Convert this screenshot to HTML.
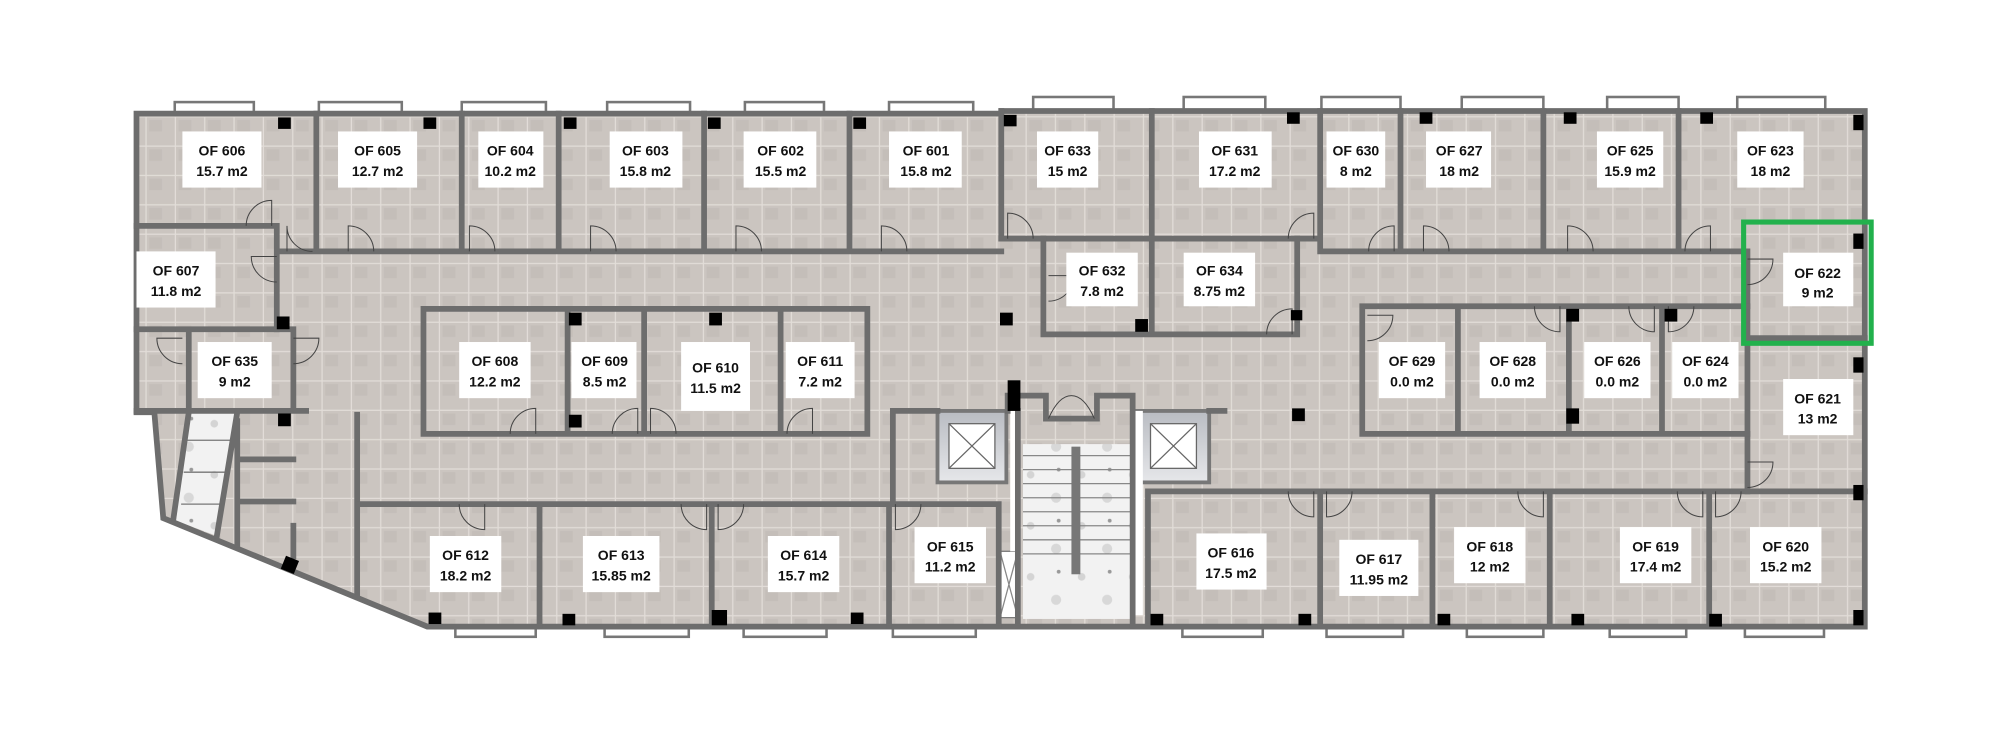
<!DOCTYPE html>
<html><head><meta charset="utf-8"><style>
html,body{margin:0;padding:0;background:#fff;width:2000px;height:744px;overflow:hidden}
svg{display:block}
.l{font-family:"Liberation Sans Narrow","Liberation Sans",sans-serif;font-weight:bold;font-size:11px;fill:#111;text-anchor:middle}
</style></head><body>
<svg width="2000" height="744" viewBox="0 0 1568 583" preserveAspectRatio="none" xmlns="http://www.w3.org/2000/svg">
<defs>
<pattern id="t" width="23" height="23" patternUnits="userSpaceOnUse">
<rect width="23" height="23" fill="#cbc5c0"/>
<rect x="2" y="2" width="10" height="9" fill="#c4beb9"/>
<path d="M22.5 0V23M0 22.5H23" stroke="#e2ddd8" stroke-width="1"/>
</pattern>
<pattern id="m" width="40" height="40" patternUnits="userSpaceOnUse">
<rect width="40" height="40" fill="#f2f2f2"/>
<circle cx="8" cy="12" r="3" fill="#d4d4d4"/><circle cx="28" cy="30" r="4" fill="#d8d8d8"/><circle cx="30" cy="8" r="1.5" fill="#999"/>
</pattern>
<linearGradient id="e" x1="0" y1="0" x2="0" y2="1"><stop offset="0" stop-color="#b9bcc2"/><stop offset="1" stop-color="#e6e7ea"/></linearGradient>
</defs>

<g fill="#fff" stroke="#777" stroke-width="2">
<rect x="137" y="80" width="62" height="10"/><rect x="250" y="80" width="65" height="10"/><rect x="362" y="80" width="66" height="10"/><rect x="476" y="80" width="65" height="10"/><rect x="584" y="80" width="62" height="10"/><rect x="697" y="80" width="66" height="10"/>
<rect x="810" y="76" width="63" height="10"/><rect x="928" y="76" width="64" height="10"/><rect x="1036" y="76" width="62" height="10"/><rect x="1146" y="76" width="64" height="10"/><rect x="1260" y="76" width="56" height="10"/><rect x="1362" y="76" width="69" height="10"/>
<rect x="357" y="490" width="63" height="9"/><rect x="474" y="490" width="66" height="9"/><rect x="583" y="490" width="65" height="9"/><rect x="700" y="490" width="65" height="9"/><rect x="927" y="490" width="63" height="9"/><rect x="1040" y="490" width="60" height="9"/><rect x="1150" y="490" width="60" height="9"/><rect x="1262" y="490" width="60" height="9"/><rect x="1368" y="490" width="62" height="9"/>
</g>

<path d="M107 89H785V87H1462V491H335L128 406L121 323H107Z" fill="url(#t)"/>
<path d="M148 323H186L170 420L138 408Z" fill="url(#m)"/>
<path d="M146 345H183M144 370H180M142 395H176" stroke="#777" stroke-width="1"/>
<rect x="802" y="348" width="84" height="137" fill="url(#m)"/>
<g stroke="#888" stroke-width="1"><path d="M802 357H886M802 368H886M802 379H886M802 390H886M802 401H886M802 412H886M802 423H886M802 434H886"/></g>
<rect x="840" y="350" width="7" height="100" fill="#777"/>
<rect x="735" y="322" width="54" height="56" fill="url(#e)" stroke="#777" stroke-width="3"/>
<rect x="744" y="332" width="36" height="35" fill="#fff" stroke="#666"/><path d="M744 332L780 367M780 332L744 367" stroke="#666"/>
<rect x="890" y="322" width="58" height="56" fill="url(#e)" stroke="#777" stroke-width="3"/>
<rect x="902" y="332" width="36" height="35" fill="#fff" stroke="#666"/><path d="M902 332L938 367M938 332L902 367" stroke="#666"/>
<rect x="784" y="432" width="14" height="52" fill="#fff" stroke="#777"/><path d="M784 432L798 484M798 432L784 484" stroke="#888"/>
<rect x="792" y="322" width="6" height="110" fill="#fff"/><rect x="888" y="322" width="8" height="160" fill="#fff"/>

<g fill="none" stroke="#6d6d6d" stroke-width="4.5" stroke-linecap="square">
<path d="M107 89H785V87H1462V491H335L128 406L121 323H107Z"/>
<path d="M107 177H217V258M217 197H785M248 89V197M362 89V197M438 89V197M552 89V197M666 89V197M785 87V187"/>
<path d="M785 187H1035M903 87V187M1035 87V197H1366M1098 87V197M1210 87V197M1316 87V197"/>
<path d="M818 187V262H1017V187M903 187V262"/>
<path d="M1370 197V385M1370 265H1462"/>
<path d="M1068 240H1370M1068 240V340H1370M1143 240V340M1230 240V340M1303 240V340"/>
<path d="M332 242H680V340H332ZM445 242V340M505 242V340M612 242V340"/>
<path d="M107 258H230V322M148 258V322M107 322H240"/>
<path d="M186 323L170 420M148 323L136 406M186 330V427M186 360H230M186 393H230M230 412V436"/>
<path d="M280 325V466"/>
<path d="M282 395H783M423 395V490M558 395V490M697 395V490M783 395V490"/>
<path d="M900 385H1462M900 385V490M1035 385V490M1123 385V490M1215 385V490M1340 385V490"/>
<path d="M790 310V322M798 322V490M888 322V490M798 310H820V328H860V310H888V322"/>
<path d="M735 322H700V395"/><path d="M948 322H960"/>
</g>

<g fill="none" stroke="#444" stroke-width="0.8">
<path d="M213 177V157A20 20 0 0 0 193 177"/>
<path d="M225 197V177A20 20 0 0 0 245 197"/>
<path d="M273 197V177A20 20 0 0 1 293 197"/>
<path d="M368 197V177A20 20 0 0 1 388 197"/>
<path d="M463 197V177A20 20 0 0 1 483 197"/>
<path d="M577 197V177A20 20 0 0 1 597 197"/>
<path d="M691 197V177A20 20 0 0 1 711 197"/>
<path d="M790 187V167A20 20 0 0 1 810 187"/>
<path d="M1030 187V167A20 20 0 0 0 1010 187"/>
<path d="M1093 197V177A20 20 0 0 0 1073 197"/>
<path d="M1116 197V177A20 20 0 0 1 1136 197"/>
<path d="M1229 197V177A20 20 0 0 1 1249 197"/>
<path d="M1341 197V177A20 20 0 0 0 1321 197"/>
<path d="M217 201H197A20 20 0 0 0 217 221"/>
<path d="M230 265H250A20 20 0 0 1 230 285"/>
<path d="M143 265H123A20 20 0 0 0 143 285"/>
<path d="M1370 203H1390A20 20 0 0 1 1370 223"/>
<path d="M822 216H842A20 20 0 0 1 822 236"/>
<path d="M1013 262V242A20 20 0 0 0 993 262"/>
<path d="M1072 247H1092A20 20 0 0 1 1072 267"/>
<path d="M1223 240V260A20 20 0 0 1 1203 240"/>
<path d="M1297 240V260A20 20 0 0 1 1277 240"/>
<path d="M1308 240V260A20 20 0 0 0 1328 240"/>
<path d="M420 340V320A20 20 0 0 0 400 340"/>
<path d="M500 340V320A20 20 0 0 0 480 340"/>
<path d="M510 340V320A20 20 0 0 1 530 340"/>
<path d="M637 340V320A20 20 0 0 0 617 340"/>
<path d="M1370 362H1390A20 20 0 0 1 1370 382"/>
<path d="M380 395V415A20 20 0 0 1 360 395"/>
<path d="M554 395V415A20 20 0 0 1 534 395"/>
<path d="M563 395V415A20 20 0 0 0 583 395"/>
<path d="M702 395V415A20 20 0 0 0 722 395"/>
<path d="M1030 385V405A20 20 0 0 1 1010 385"/>
<path d="M1040 385V405A20 20 0 0 0 1060 385"/>
<path d="M1210 385V405A20 20 0 0 1 1190 385"/>
<path d="M1335 385V405A20 20 0 0 1 1315 385"/>
<path d="M1345 385V405A20 20 0 0 0 1365 385"/>
<path d="M822 328Q830 310 840 310M858 328Q850 310 840 310"/>
</g>

<g fill="#000">
<rect x="218" y="92" width="10" height="9"/><rect x="332" y="92" width="10" height="9"/><rect x="442" y="92" width="10" height="9"/><rect x="555" y="92" width="10" height="9"/><rect x="669" y="92" width="10" height="9"/><rect x="787" y="90" width="10" height="9"/><rect x="1009" y="88" width="10" height="9"/><rect x="1113" y="88" width="10" height="9"/><rect x="1226" y="88" width="10" height="9"/><rect x="1333" y="88" width="10" height="9"/><rect x="1453" y="90" width="8" height="12"/>
<rect x="217" y="248" width="10" height="10"/><rect x="784" y="245" width="10" height="10"/><rect x="890" y="250" width="10" height="10"/><rect x="1012" y="243" width="9" height="8"/>
<rect x="446" y="245" width="10" height="10"/><rect x="556" y="245" width="10" height="10"/><rect x="446" y="325" width="10" height="10"/>
<rect x="1228" y="242" width="10" height="10"/><rect x="1228" y="320" width="10" height="12"/><rect x="1305" y="242" width="10" height="10"/><rect x="1453" y="183" width="8" height="12"/><rect x="1453" y="280" width="8" height="12"/><rect x="1453" y="380" width="8" height="12"/><rect x="1453" y="478" width="8" height="12"/>
<rect x="790" y="298" width="10" height="24"/><rect x="1013" y="320" width="10" height="10"/>
<rect x="218" y="324" width="10" height="10"/><rect x="222" y="437" width="11" height="11" transform="rotate(22 227 442)"/>
<rect x="336" y="480" width="10" height="9"/><rect x="441" y="481" width="10" height="9"/><rect x="558" y="478" width="12" height="12"/><rect x="667" y="480" width="10" height="9"/><rect x="902" y="481" width="10" height="9"/><rect x="1018" y="481" width="10" height="9"/><rect x="1127" y="481" width="10" height="9"/><rect x="1232" y="481" width="10" height="9"/><rect x="1340" y="481" width="10" height="10"/>
</g>

<rect x="1367" y="174" width="100" height="95" fill="none" stroke="#22b14c" stroke-width="4"/>

<g fill="#fff">
<rect x="143" y="103" width="62" height="44"/><rect x="265" y="103" width="62" height="44"/><rect x="375" y="103" width="51" height="44"/><rect x="478" y="103" width="57" height="44"/><rect x="583" y="103" width="57" height="44"/><rect x="697" y="103" width="57" height="44"/><rect x="813" y="103" width="48" height="44"/><rect x="940" y="103" width="57" height="44"/><rect x="1040" y="103" width="46" height="44"/><rect x="1118" y="103" width="51" height="44"/><rect x="1252" y="103" width="52" height="44"/><rect x="1362" y="103" width="52" height="44"/>
<rect x="107" y="197" width="62" height="44"/><rect x="836" y="198" width="56" height="42"/><rect x="928" y="198" width="56" height="42"/><rect x="1398" y="198" width="55" height="42"/>
<rect x="155" y="268" width="58" height="44"/><rect x="360" y="268" width="56" height="44"/><rect x="448" y="268" width="51" height="44"/><rect x="534" y="268" width="54" height="54"/><rect x="616" y="268" width="54" height="44"/>
<rect x="1081" y="268" width="52" height="44"/><rect x="1160" y="268" width="52" height="44"/><rect x="1242" y="268" width="52" height="44"/><rect x="1311" y="268" width="52" height="44"/><rect x="1398" y="297" width="55" height="44"/>
<rect x="337" y="420" width="56" height="44"/><rect x="457" y="420" width="60" height="44"/><rect x="602" y="420" width="56" height="44"/><rect x="717" y="413" width="56" height="44"/><rect x="938" y="418" width="55" height="44"/><rect x="1050" y="423" width="62" height="44"/><rect x="1140" y="413" width="56" height="44"/><rect x="1270" y="413" width="56" height="44"/><rect x="1372" y="413" width="56" height="44"/>
</g>
<g class="l">
<text x="174" y="122">OF 606</text><text x="174" y="138">15.7 m2</text>
<text x="296" y="122">OF 605</text><text x="296" y="138">12.7 m2</text>
<text x="400" y="122">OF 604</text><text x="400" y="138">10.2 m2</text>
<text x="506" y="122">OF 603</text><text x="506" y="138">15.8 m2</text>
<text x="612" y="122">OF 602</text><text x="612" y="138">15.5 m2</text>
<text x="726" y="122">OF 601</text><text x="726" y="138">15.8 m2</text>
<text x="837" y="122">OF 633</text><text x="837" y="138">15 m2</text>
<text x="968" y="122">OF 631</text><text x="968" y="138">17.2 m2</text>
<text x="1063" y="122">OF 630</text><text x="1063" y="138">8 m2</text>
<text x="1144" y="122">OF 627</text><text x="1144" y="138">18 m2</text>
<text x="1278" y="122">OF 625</text><text x="1278" y="138">15.9 m2</text>
<text x="1388" y="122">OF 623</text><text x="1388" y="138">18 m2</text>
<text x="138" y="216">OF 607</text><text x="138" y="232">11.8 m2</text>
<text x="864" y="216">OF 632</text><text x="864" y="232">7.8 m2</text>
<text x="956" y="216">OF 634</text><text x="956" y="232">8.75 m2</text>
<text x="1425" y="218">OF 622</text><text x="1425" y="233">9 m2</text>
<text x="184" y="287">OF 635</text><text x="184" y="303">9 m2</text>
<text x="388" y="287">OF 608</text><text x="388" y="303">12.2 m2</text>
<text x="474" y="287">OF 609</text><text x="474" y="303">8.5 m2</text>
<text x="561" y="292">OF 610</text><text x="561" y="308">11.5 m2</text>
<text x="643" y="287">OF 611</text><text x="643" y="303">7.2 m2</text>
<text x="1107" y="287">OF 629</text><text x="1107" y="303">0.0 m2</text>
<text x="1186" y="287">OF 628</text><text x="1186" y="303">0.0 m2</text>
<text x="1268" y="287">OF 626</text><text x="1268" y="303">0.0 m2</text>
<text x="1337" y="287">OF 624</text><text x="1337" y="303">0.0 m2</text>
<text x="1425" y="316">OF 621</text><text x="1425" y="332">13 m2</text>
<text x="365" y="439">OF 612</text><text x="365" y="455">18.2 m2</text>
<text x="487" y="439">OF 613</text><text x="487" y="455">15.85 m2</text>
<text x="630" y="439">OF 614</text><text x="630" y="455">15.7 m2</text>
<text x="745" y="432">OF 615</text><text x="745" y="448">11.2 m2</text>
<text x="965" y="437">OF 616</text><text x="965" y="453">17.5 m2</text>
<text x="1081" y="442">OF 617</text><text x="1081" y="458">11.95 m2</text>
<text x="1168" y="432">OF 618</text><text x="1168" y="448">12 m2</text>
<text x="1298" y="432">OF 619</text><text x="1298" y="448">17.4 m2</text>
<text x="1400" y="432">OF 620</text><text x="1400" y="448">15.2 m2</text>
</g>
</svg>
</body></html>
